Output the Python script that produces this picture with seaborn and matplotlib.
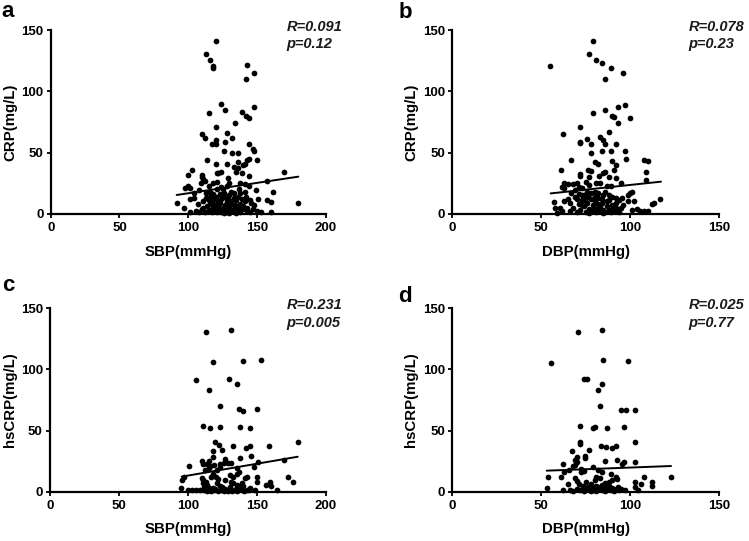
import matplotlib
matplotlib.use("Agg")
import matplotlib.pyplot as plt
import seaborn as sns
import pandas as pd

sns.set_theme(style="ticks")
plt.rcParams['font.family'] = ['Liberation Sans', 'DejaVu Sans']
plt.rcParams['font.weight'] = 'bold'

# ---------------- data ----------------
# Panel a: SBP vs CRP
a_pts = [
    (120.5,141),(113,131),(116,126),(118,121),(118,119),(143,122),(148,115),(142,110),(124,90),(127,85),
    (115,82),(139,83),(142,80),(144,78),(148,87),(120,71),(134,74),(128,66),(110,65),(112,62),(132,62),
    (120,60),(120,57),(117,57),(127,59),(144,57),(147,53),(148,51),(126,51),(132,50),(136,50),(114,44),
    (150,44),(143,44),(144,45),(140,40),(141,41),(136,42),(120,41),(128,41),(121,33),(122,33),(124,34),
    (136,37),(133,38),(139,33),(100,32),(103,36),(110,32),(110,30),(111,28),(129,29),(135,34),(144,31),
    (170,34),(157,27),(128,23),(130,25),(115,23),(118,25),(121,26),(138,25),(141,24),(144,23),(112,27),
    (109,25),(98,21),(100,23),(101,21),(108,19),(162,18),(149,19),(104,17),(113,17),(116,18),(118,16),
    (123,16),(126,17),(130,15),(133,17),(138,17),(142,14),(157,11),(160,9.5),(151,12),(180,9),(92,9),
    (97,5),(101,12),(104,13),(107,8),(111,10),(115,11),(121,11),(123,8.5),(128,10),(132,8),(135,11),
    (138,8),(141,10),(145,11),(148,7),(101,1),(106,2.5),(110,3.5),(112,1.6),(115,3),(117,1.4),(119.5,4.4),
    (121,1.6),(123,3),(124,1),(127,3.5),(129,2.5),(130,0.8),(133,4),(134,1.6),(136,3),(138,1),(140,3.5),
    (142.5,2.5),(145,1.4),(147,4),(150,2.5),(153,1.6),(160,1.4),(114,6),(116,8),(118,5),(119,12),(120,14),
    (122,6),(124,12),(125,5),(126,14),(127,7),(129,12),(130,5),(131,18),(132,3),(134,7),(136,14),(137,5),
    (139,12),(140,6),(143,5),(146,9),(113,13),(117,10),(121,20),(125,20),(128,1.5),(131,10),(118,2),
    (126,0.5),(135,0.5),(122,9),(111,5),(108,1),(119,7),(133,13),(137,20),(124,22),(116,14),(141,18),
    (129,7),(127,1),(120,3),
]
# Panel b: DBP vs CRP
b_pts = [
    (79,141),(77,131),(81,126),(84,123),(89,119),(55,121),(96,115),(86,110),(97,89),(93,87),(86,85),
    (79,82),(90,80),(91,79),(100,78),(93,74),(72,71),(88,67),(62,65),(76,61),(72,59),(72,57.5),(83,62.5),
    (85,60),(86,57),(78,57),(92,57),(78,50),(84,51),(89,51.5),(97,51.5),(97.5,45),(108,44),(110,43),
    (67,44),(80,42),(82,41),(90,43),(92,40),(61,36),(76.5,36),(78,35),(85,33.5),(86,34),(91,36),(72,32.5),
    (72,31),(77,30),(82.5,31),(88,30),(92,29),(109,34),(109,27.5),(63,25),(65,24),(68,24),(70,25),
    (61.5,22),(63,21),(75,26),(77,23.5),(81,25),(83,25.5),(87,22.5),(89,22.5),(95,25),(71,22),(73,21),
    (100,16.6),(101,18),(98.6,15),(95.6,13),(102,10),(112.5,8),(113.6,9),(117,12),(57,9.5),(58,4.4),
    (60.6,5),(61.5,2.5),(59,0.8),(63,10),(65,12),(66,8.5),(69,14),(71,16),(73,15),(74.6,11),(76.5,14),
    (78,17),(80,18),(82,17),(86,18),(88,15),(89.6,14),(92,12.5),(94,11),(96,7),(98.6,10),(101,3),
    (103.7,3.5),(105.6,2.5),(108,2.5),(110,2.5),(66,2),(68,5),(70,1),(71,8),(72,3),(73,11),(74,6),
    (75,1.5),(76,9),(77,4),(78,12),(79,2),(79,7),(80,10),(81,4),(81,1),(82,13),(83,6),(83,2),(84,9),
    (85,3),(85,15),(86,1),(87,6),(87,10),(88,3),(89,1),(90,7),(90,4),(91,2),(92,9),(93,3),(94,1),(95,5),
    (76,18),(74,15),(80,14),(84,12),(79,4),(77,0.5),(82,8),(85,0.5),(70,12),(73,7),(88,11),(92,5),
    (67,17),(69,19),
]
# Panel c: SBP vs hsCRP
c_pts = [
    (113,131),(131,132),(118,106),(140,106.5),(153,107.5),(106,91.5),(130,92.5),(136,88),(115,83.5),
    (123,70),(137,67.5),(140,66),(150,67.5),(111,53.5),(116,52),(123,53),(138,53),(145,52.5),(180,40.5),
    (120,41),(122.6,38.5),(118,33.5),(125,34),(133,37.5),(142,35.5),(145,37),(159,37.5),(101,21),(110,25),
    (111,23),(114,23),(116,21),(115.6,25.4),(118,28.6),(118.7,21.5),(123,22.6),(127,26.7),(126,23.7),
    (129,23.7),(131,23.7),(138,27.3),(146,29.5),(151,24.5),(170,26),(148,20),(136,19),(137.4,16),
    (121,17.7),(123,20.5),(112.7,17.7),(115,19.4),(95.5,9.5),(97,11.7),(95,2.7),(110,11.5),(111,9.5),
    (117,12.3),(118.5,14.2),(122,10),(120.4,11.7),(130.6,13.6),(133,12.3),(135.4,14.7),(141.5,11),
    (143,12.3),(150,12.3),(150,8),(157,5.5),(159.6,7.6),(160,4.6),(173,11.7),(176,8.2),(165,1.4),
    (100,1.4),(103,1.4),(106,1.4),(109,1.4),(111,6.8),(112,4),(114,5.5),(118.5,2.7),(121,6.8),(123,4.6),
    (125,3.5),(128,1.4),(130.6,4),(133,6.8),(136,5.5),(138,2.7),(140,4.6),(142.7,1.4),(145,2.7),
    (148.7,1.4),(112,1),(114,0.8),(116,1.5),(117,0.5),(119,1),(120,2),(122,0.8),(124,1.2),(126,0.5),
    (127,2),(129,0.8),(131,1.5),(132,0.5),(134,1),(135,2.5),(136,0.8),(137,4),(139,1.2),(141,0.8),
    (144,1),(115,3),(113,8),(131,8),(139,7.5),(127,9.5),
]
# Panel d: DBP vs hsCRP
d_pts = [
    (70.5,131),(84.4,132),(55.3,105.5),(85,107.7),(99,106.6),(74,92),(76,92.5),(84,88),(82,83.5),
    (83,70),(95,66.5),(97.5,67),(103,67),(71.6,53.7),(79,52),(80,53),(87,52.4),(96.4,53),(71.6,41),
    (71.6,38.7),(103,40.4),(83.4,37.6),(86.3,36.8),(90,35.7),(92,37),(77,34),(67.5,33.5),(74.8,29.5),
    (74.6,27.3),(70,28.6),(69,26),(70.3,24.3),(86,25),(92.4,26),(95.6,23),(96.8,24),(103,24.5),(62,22.6),
    (69,22),(67.7,20.7),(65.6,17.7),(72.6,18.8),(72.4,16),(74,17),(79,20),(82,17.7),(84.4,16.4),
    (89.4,14.2),(62.6,16.4),(61,12.3),(54,11.7),(53,2.7),(62,1.4),(65,6.3),(69,11),(70,9),(71.3,6.3),
    (73.7,4.6),(76.5,3.5),(80,9.5),(81,12.3),(83,11),(86,6.8),(88,8),(89.6,9.5),(92,12.3),(92.6,10),
    (103,7.6),(103,3.5),(106,6),(107.6,11.7),(112.5,8.2),(112.5,4.6),(123,11.7),(104.6,1.4),(66,1),
    (68,0.5),(70,2),(72,1),(74,0.8),(75,2.5),(77,1),(78,0.5),(79,3),(80,1.5),(81,0.8),(82,4),(83,2),
    (84,1),(85,3),(86,0.6),(87,2),(88,4.5),(89,1.2),(90,3),(91,0.8),(92,2),(93,4),(94,1),(95,2.5),
    (97,1),(78,6),(84,5.5),(75,8),(81,4.5),(86,3),
]

# fitted regression lines (endpoints)
a_fit_x, a_fit_y = [91.6, 180.1], [15.3, 30.3]
b_fit_x, b_fit_y = [55.3, 117.4], [16.6, 26.2]
c_fit_x, c_fit_y = [95.5, 179.7], [12.3, 28.6]
d_fit_x, d_fit_y = [53.1, 123.0], [17.2, 21.0]

panel_letters = ["a", "b", "c", "d"]
x_labels = ["SBP(mmHg)", "DBP(mmHg)", "SBP(mmHg)", "DBP(mmHg)"]
y_labels = ["CRP(mg/L)", "CRP(mg/L)", "hsCRP(mg/L)", "hsCRP(mg/L)"]
r_texts = ["R=0.091", "R=0.078", "R=0.231", "R=0.025"]
p_texts = ["p=0.12", "p=0.23", "p=0.005", "p=0.77"]
x_ticks_sbp = [0, 50, 100, 150, 200]
x_ticks_dbp = [0, 50, 100, 150]
y_ticks = [0, 50, 100, 150]

# ---------------- figure ----------------
W, H = 749, 541
fig = plt.figure(figsize=(W / 100, H / 100), dpi=100)

def px_axes(left, top, right, bottom):
    return fig.add_axes([left / W, 1 - bottom / H, (right - left) / W, (bottom - top) / H])

axes_px = [
    (50.7, 30.3, 325.7, 213.7),
    (452.3, 30.3, 719.0, 213.7),
    (50.0, 308.3, 325.7, 491.7),
    (452.3, 308.3, 719.0, 491.7),
]
pts = [a_pts, b_pts, c_pts, d_pts]
fits = [(a_fit_x, a_fit_y), (b_fit_x, b_fit_y), (c_fit_x, c_fit_y), (d_fit_x, d_fit_y)]
xt = [x_ticks_sbp, x_ticks_dbp, x_ticks_sbp, x_ticks_dbp]
letter_pos = [(1.7, 16.7), (398.3, 18.3), (1.7, 290.7), (397.7, 302.3)]
text_pos = [(286.7, 31.0, 47.7), (688.3, 31.0, 47.7), (286.7, 309.3, 326.7), (688.3, 309.3, 326.7)]

for i in range(4):
    ax = px_axes(*axes_px[i])
    df = pd.DataFrame(pts[i], columns=["x", "y"])
    sns.scatterplot(data=df, x="x", y="y", ax=ax, color="black", s=17,
                    linewidth=0, clip_on=False, zorder=3)
    fdf = pd.DataFrame({"x": fits[i][0], "y": fits[i][1]})
    sns.lineplot(data=fdf, x="x", y="y", ax=ax, color="black", linewidth=1.4, zorder=4)
    ax.set_xlim(xt[i][0], xt[i][-1])
    ax.set_ylim(0, 150)
    ax.set_xticks(xt[i])
    ax.set_yticks(y_ticks)
    ax.set_xticklabels([str(v) for v in xt[i]], fontweight="bold", fontsize=9.5)
    ax.set_yticklabels([str(v) for v in y_ticks], fontweight="bold", fontsize=9.5)
    ax.tick_params(axis="both", direction="out", length=3, width=1.3, color="black",
                   labelcolor="black")
    ax.tick_params(axis="x", pad=3.0)
    ax.tick_params(axis="y", pad=2.2)
    for side in ["top", "right"]:
        ax.spines[side].set_visible(False)
    for side in ["left", "bottom"]:
        ax.spines[side].set_linewidth(1.6)
        ax.spines[side].set_color("black")
        ax.spines[side].set_zorder(2)
    ax.set_xlabel(x_labels[i], fontweight="bold", fontsize=10.8, color="black")
    ax.set_ylabel(y_labels[i], fontweight="bold", fontsize=10.8, color="black")
    left, top, right, bottom = axes_px[i]
    w = right - left
    hgt = bottom - top
    ylab_right = 17.3 if i in (0, 2) else 418.3
    ax.yaxis.set_label_coords((ylab_right - left) / w, 0.5)
    xlab_top = 245.0 if i < 2 else 522.3
    ax.xaxis.set_label_coords(0.5, -(xlab_top - bottom) / hgt)
    ax.set_facecolor("white")

    lx, ly = letter_pos[i]
    fig.text(lx / W, 1 - ly / H, panel_letters[i], fontsize=16, fontweight="bold",
             ha="left", va="baseline", color="black")
    tx, ty1, ty2 = text_pos[i]
    fig.text(tx / W, 1 - ty1 / H, r_texts[i], fontsize=10.5, fontweight="bold",
             fontstyle="italic", ha="left", va="baseline", color="#1a1a1a")
    fig.text(tx / W, 1 - ty2 / H, p_texts[i], fontsize=10.5, fontweight="bold",
             fontstyle="italic", ha="left", va="baseline", color="#1a1a1a")

fig.savefig("out.png", dpi=100, facecolor="white")
